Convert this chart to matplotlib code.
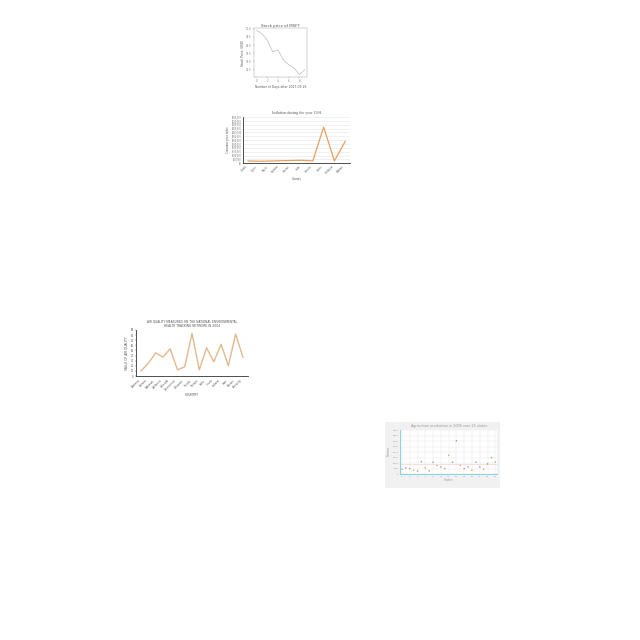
import matplotlib
matplotlib.use("Agg")
import matplotlib.pyplot as plt
from matplotlib.patches import Rectangle

# ---- Chart 1: stock price ----
stock_days = [0, 1, 2, 3, 4, 5, 6, 7, 8, 9]
stock_price = [74.9, 74.7, 74.3, 73.6, 73.7, 73.1, 72.8, 72.6, 72.2, 72.5]

# ---- Chart 2: inflation ----
infl_countries = ["Albania", "Algeria", "Angola", "Argentina", "Armenia", "Aruba",
                  "Australia", "Austria", "Azerbaijan", "Bahamas"]
infl_values = [30000, 25000, 28000, 32000, 35000, 38000, 30000, 470000, 30000, 285000]
infl_ticks = list(range(0, 600001, 50000))

# ---- Chart 3: air quality ----
aq_countries = ["Alabama", "Arizona", "Arkansas", "California", "Colorado", "Connecticut",
                "Delaware", "Florida", "Georgia", "Idaho", "Illinois", "Indiana",
                "Iowa", "Kansas", "Kentucky"]
aq_values = [10, 25, 45, 37, 53, 12, 18, 83, 12, 55, 28, 62, 20, 82, 37]

# ---- Chart 4: agriculture ----
agri_states = list(range(1, 26))
agri_values = [460, 570, 510, 370, 290, 1140, 570, 310, 1090, 800, 660, 510, 1710,
               1090, 3030, 800, 510, 660, 370, 1090, 660, 460, 940, 1510, 1100]
agri_ticks_y = list(range(0, 4001, 500))

fig = plt.figure(figsize=(6.4, 6.4), dpi=100)
fig.patch.set_facecolor("white")

fs = 2.2

# Chart 1
ax1 = fig.add_axes([0.397, 0.880, 0.083, 0.076])
ax1.plot(stock_days, stock_price, color="#bbbbbb", lw=0.5)
ax1.set_title("Stock price of MSFT", fontsize=2.8, pad=1, color="#555555")
ax1.set_xlabel("Number of Days after 2017-09-26", fontsize=fs, labelpad=1, color="#555555")
ax1.set_ylabel("Stock Price (USD)", fontsize=fs, labelpad=1, color="#555555")
ax1.tick_params(labelsize=1.8, length=1, width=0.3, pad=0.8, colors="#777777")
for s in ax1.spines.values():
    s.set_linewidth(0.3)
    s.set_color("#999999")

# Chart 2
ax2 = fig.add_axes([0.380, 0.745, 0.167, 0.072])
ax2.plot(infl_countries, infl_values, color="#e8a060", lw=0.9)
ax2.set_yticks(infl_ticks)
ax2.set_ylim(0, 600000)
ax2.set_yticklabels([f"${v:,}" for v in infl_ticks])
ax2.set_title("Inflation during the year 1991", fontsize=3, pad=2, family="Liberation Serif", color="#555555")
ax2.set_xlabel("Country", fontsize=fs, family="Liberation Serif", labelpad=1, color="#555555")
ax2.set_ylabel("Consumer price index", fontsize=fs, family="Liberation Serif", labelpad=1, color="#555555")
ax2.tick_params(labelsize=1.8, length=0, pad=1, colors="#666666")
plt.setp(ax2.get_xticklabels(), rotation=45, ha="right", family="Liberation Serif")
plt.setp(ax2.get_yticklabels(), family="Liberation Serif")
ax2.grid(axis="y", color="#e6e6e6", lw=0.4)
ax2.set_axisbelow(True)
for k in ["top", "right"]:
    ax2.spines[k].set_visible(False)
for k in ["left", "bottom"]:
    ax2.spines[k].set_linewidth(0.6)
    ax2.spines[k].set_color("#333333")

# Chart 3
ax3 = fig.add_axes([0.2125, 0.4125, 0.175, 0.072])
ax3.plot(aq_countries, aq_values, color="#e3b98e", lw=1.0)
ax3.set_ylim(0, 90)
ax3.set_yticks(range(0, 91, 10))
ax3.set_title("AIR QUALITY MEASURED ON THE NATIONAL ENVIRONMENTAL\nHEALTH TRACKING NETWORK IN 2004",
              fontsize=2.2, pad=2, color="#555555", linespacing=1.1)
ax3.set_xlabel("COUNTRY", fontsize=fs, labelpad=1, color="#555555")
ax3.set_ylabel("VALUE OF AIR QUALITY", fontsize=fs, labelpad=1, color="#555555")
ax3.tick_params(labelsize=1.8, length=1, width=0.3, pad=0.8, colors="#555555")
plt.setp(ax3.get_xticklabels(), rotation=45, ha="right")
for k in ["top", "right"]:
    ax3.spines[k].set_visible(False)
for k in ["left", "bottom"]:
    ax3.spines[k].set_linewidth(0.6)
    ax3.spines[k].set_color("#333333")

# Chart 4
bg = Rectangle((385 / 640, 1 - 488 / 640), 115 / 640, 66 / 640,
               transform=fig.transFigure, facecolor="#f1f1f1",
               edgecolor="none", zorder=-5)
fig.add_artist(bg)
ax4 = fig.add_axes([0.625, 0.259, 0.152, 0.069])
ax4.set_zorder(2)
ax4.set_facecolor("white")
colors4 = ["#e8a060" if i % 3 == 0 else "#999999" for i in range(len(agri_states))]
ax4.scatter(agri_states, agri_values, s=1.2, c=colors4, linewidths=0, zorder=3)
ax4.axhline(900, color="#f6c8c8", lw=0.4, zorder=2)
ax4.set_ylim(0, 4000)
ax4.set_yticks(agri_ticks_y)
ax4.set_xlim(0.5, 25.5)
ax4.set_xticks(range(1, 26, 2))
ax4.set_title("Agriculture production in 2006 over 25 states", fontsize=2.4, pad=2, color="#999999")
ax4.set_xlabel("States", fontsize=fs, labelpad=1, color="#999999")
ax4.set_ylabel("Tonnes", fontsize=fs, labelpad=1, color="#999999")
ax4.tick_params(labelsize=1.7, length=0, pad=1, colors="#999999")
ax4.grid(color="#e4e4e4", lw=0.3)
ax4.set_axisbelow(True)
for k in ["top", "right"]:
    ax4.spines[k].set_visible(False)
for k in ["left", "bottom"]:
    ax4.spines[k].set_linewidth(0.7)
    ax4.spines[k].set_color("#7fd3e6")

fig.savefig("out.png", dpi=100)
